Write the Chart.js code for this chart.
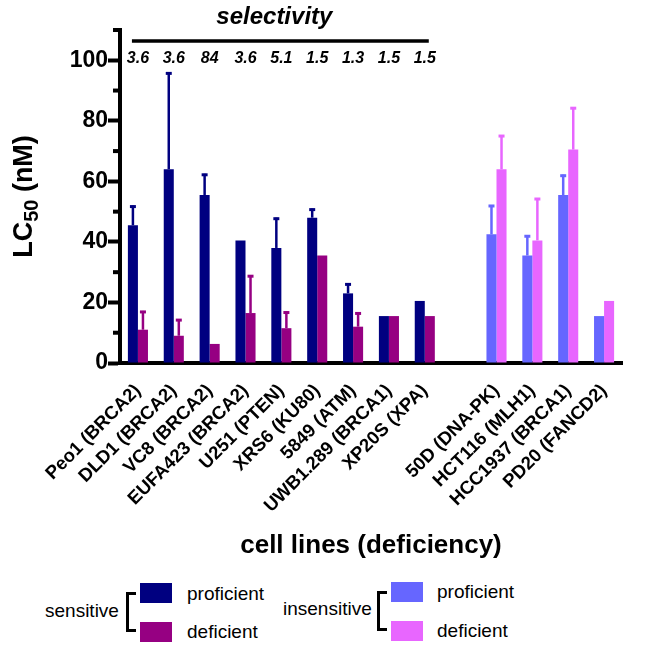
<!DOCTYPE html>
<html>
<head>
<meta charset="utf-8">
<script src="https://cdn.jsdelivr.net/npm/chart.js@4.4.1/dist/chart.umd.min.js"></script>
<style>
    body { margin: 0; background: #fff; font-family: "Liberation Sans", Arial, sans-serif; }
    #wrap { position: relative; width: 647px; height: 651px; }
    #chartBox { position: absolute; left: 0; top: 0; width: 647px; height: 570px; }
    .lg { position: absolute; font-size: 19px; color: #000; line-height: 1; white-space: nowrap; }
    .sw { position: absolute; width: 32px; height: 20px; }
    .br { position: absolute; width: 7px; border: 3px solid #000; border-right: none; }
</style>
</head>
<body>
<div id="wrap">
    <div id="chartBox"><canvas id="lcChart"></canvas></div>

    <div class="lg" style="left:45px; top:601px;">sensitive</div>
    <div class="br" style="left:126px; top:592px; height:34px;"></div>
    <div class="sw" style="left:140px; top:583px; background:#000080;"></div>
    <div class="sw" style="left:140px; top:622px; background:#960082;"></div>
    <div class="lg" style="left:187px; top:584px;">proficient</div>
    <div class="lg" style="left:187px; top:622px;">deficient</div>

    <div class="lg" style="left:283px; top:599px;">insensitive</div>
    <div class="br" style="left:377px; top:591px; height:34px;"></div>
    <div class="sw" style="left:391px; top:582px; background:#6666ff;"></div>
    <div class="sw" style="left:391px; top:621px; background:#e866ff;"></div>
    <div class="lg" style="left:437px; top:582px;">proficient</div>
    <div class="lg" style="left:437px; top:621px;">deficient</div>
</div>
<script>
// cell lines, '' = gap between sensitive and insensitive groups
var cellLines = ['Peo1 (BRCA2)', 'DLD1 (BRCA2)', 'VC8 (BRCA2)', 'EUFA423 (BRCA2)', 'U251 (PTEN)',
    'XRS6 (KU80)', '5849 (ATM)', 'UWB1.289 (BRCA1)', 'XP20S (XPA)', '',
    '50D (DNA-PK)', 'HCT116 (MLH1)', 'HCC1937 (BRCA1)', 'PD20 (FANCD2)'];
var group = ['s', 's', 's', 's', 's', 's', 's', 's', 's', '', 'i', 'i', 'i', 'i'];

// LC50 (nM) means and upper error
var proficient    = [45.5, 64, 55.5, 40.5, 38, 48, 23, 15.5, 20.5, null, 42.5, 35.5, 55.5, 15.5];
var proficientErr = [6.5, 32, 7, 0, 10, 3, 3.3, 0, 0, null, 9.7, 6.7, 6.7, 0];
var deficient     = [11, 9, 6.3, 16.5, 11.5, 35.5, 12, 15.5, 15.5, null, 64, 40.5, 70.5, 20.5];
var deficientErr  = [6.2, 5.5, 0, 12.5, 5.5, 0, 4.7, 0, 0, null, 11.3, 14, 14, 0];

var selectivity = ['3.6', '3.6', '84', '3.6', '5.1', '1.5', '1.3', '1.5', '1.5'];

var colors = {
    s: { pro: '#000080', def: '#960082' },
    i: { pro: '#6666ff', def: '#e866ff' }
};

function colorList(kind) {
    return group.map(function (g) { return g ? colors[g][kind] : 'rgba(0,0,0,0)'; });
}

// upward error bars
var errorBars = {
    id: 'errorBars',
    afterDatasetsDraw: function (chart) {
        var ctx = chart.ctx, y = chart.scales.y;
        chart.data.datasets.forEach(function (ds, di) {
            var meta = chart.getDatasetMeta(di);
            meta.data.forEach(function (bar, i) {
                var e = ds.err[i];
                if (!e || ds.data[i] == null) return;
                var top = y.getPixelForValue(ds.data[i] + e);
                ctx.save();
                ctx.strokeStyle = ds.backgroundColor[i];
                ctx.lineWidth = 2.5;
                ctx.beginPath();
                ctx.moveTo(bar.x, bar.y);
                ctx.lineTo(bar.x, top);
                ctx.stroke();
                ctx.lineWidth = 3;
                ctx.beginPath();
                ctx.moveTo(bar.x - 3, top + 1);
                ctx.lineTo(bar.x + 3, top + 1);
                ctx.stroke();
                ctx.restore();
            });
        });
    }
};

// minor y ticks, y title with subscript, selectivity header
var decorations = {
    id: 'decorations',
    afterDraw: function (chart) {
        var ctx = chart.ctx, x = chart.scales.x, y = chart.scales.y, a = chart.chartArea;
        ctx.save();
        ctx.strokeStyle = '#000';
        ctx.lineWidth = 4;
        [10, 30, 50, 70, 90, 110].forEach(function (v) {
            var py = y.getPixelForValue(v);
            ctx.beginPath();
            ctx.moveTo(a.left - 7, py);
            ctx.lineTo(a.left, py);
            ctx.stroke();
        });

        // LC50 (nM)
        ctx.save();
        ctx.translate(25, (a.top + a.bottom) / 2);
        ctx.rotate(-Math.PI / 2);
        ctx.fillStyle = '#000';
        ctx.textBaseline = 'middle';
        var big = 'bold 27px "Liberation Sans", Arial', small = 'bold 20px "Liberation Sans", Arial';
        ctx.font = big;
        var w1 = ctx.measureText('LC').width, w3 = ctx.measureText(' (nM)').width;
        ctx.font = small;
        var w2 = ctx.measureText('50').width;
        var sx = -(w1 + w2 + w3) / 2;
        ctx.font = big;
        ctx.fillText('LC', sx, 0);
        ctx.font = small;
        ctx.fillText('50', sx + w1, 7);
        ctx.font = big;
        ctx.fillText(' (nM)', sx + w1 + w2, 0);
        ctx.restore();

        // selectivity
        var x0 = x.getPixelForValue(0) - 6, x1 = x.getPixelForValue(selectivity.length - 1) + 4;
        ctx.lineWidth = 3.5;
        ctx.beginPath();
        ctx.moveTo(x0, a.top + 11);
        ctx.lineTo(x1, a.top + 11);
        ctx.stroke();
        ctx.fillStyle = '#000';
        ctx.textAlign = 'center';
        ctx.textBaseline = 'middle';
        ctx.font = 'italic bold 24px "Liberation Sans", Arial';
        ctx.fillText('selectivity', (x0 + x1) / 2 - 6, a.top - 13);
        ctx.font = 'italic bold 16px "Liberation Sans", Arial';
        selectivity.forEach(function (s, i) {
            ctx.fillText(s, x.getPixelForValue(i), a.top + 29);
        });
        ctx.restore();
    }
};

var lcCtx = document.getElementById('lcChart').getContext('2d');
var lcChart = new Chart(lcCtx, {
    type: 'bar',
    data: {
        labels: cellLines,
        datasets: [{
            label: 'proficient',
            data: proficient,
            err: proficientErr,
            backgroundColor: colorList('pro'),
            borderWidth: 0
        }, {
            label: 'deficient',
            data: deficient,
            err: deficientErr,
            backgroundColor: colorList('def'),
            borderWidth: 0
        }]
    },
    options: {
        responsive: true,
        maintainAspectRatio: false,
        animation: false,
        layout: { padding: { top: 30, right: 25, left: 0, bottom: 0 } },
        datasets: { bar: { categoryPercentage: 0.56, barPercentage: 1.0 } },
        plugins: { legend: { display: false }, tooltip: { enabled: false } },
        scales: {
            x: {
                grid: { display: false, drawTicks: false },
                border: { display: true, color: '#000', width: 4 },
                ticks: {
                    autoSkip: false,
                    minRotation: 45,
                    maxRotation: 45,
                    padding: 17,
                    color: '#000',
                    font: { family: '"Liberation Sans", Arial', size: 18.5, weight: 'bold' }
                },
                title: {
                    display: true,
                    text: 'cell lines (deficiency)',
                    color: '#000',
                    font: { family: '"Liberation Sans", Arial', size: 26, weight: 'bold' },
                    padding: { top: 0, bottom: 9 }
                },
                afterFit: function (s) { s.height = 207; }
            },
            y: {
                min: 0,
                max: 110,
                grid: {
                    drawOnChartArea: false,
                    tickLength: 12,
                    tickWidth: 4,
                    tickColor: function (c) {
                        return c.tick && c.tick.value % 20 === 0 && c.tick.value <= 100 ? '#000' : 'rgba(0,0,0,0)';
                    }
                },
                border: { display: true, color: '#000', width: 4 },
                ticks: {
                    stepSize: 10,
                    padding: 0,
                    color: '#000',
                    font: { family: '"Liberation Sans", Arial', size: 23, weight: 'bold' },
                    callback: function (v) { return v % 20 === 0 && v <= 100 ? v : ''; }
                },
                afterFit: function (s) { s.width = 120; }
            }
        }
    },
    plugins: [errorBars, decorations]
});
</script>
</body>
</html>
